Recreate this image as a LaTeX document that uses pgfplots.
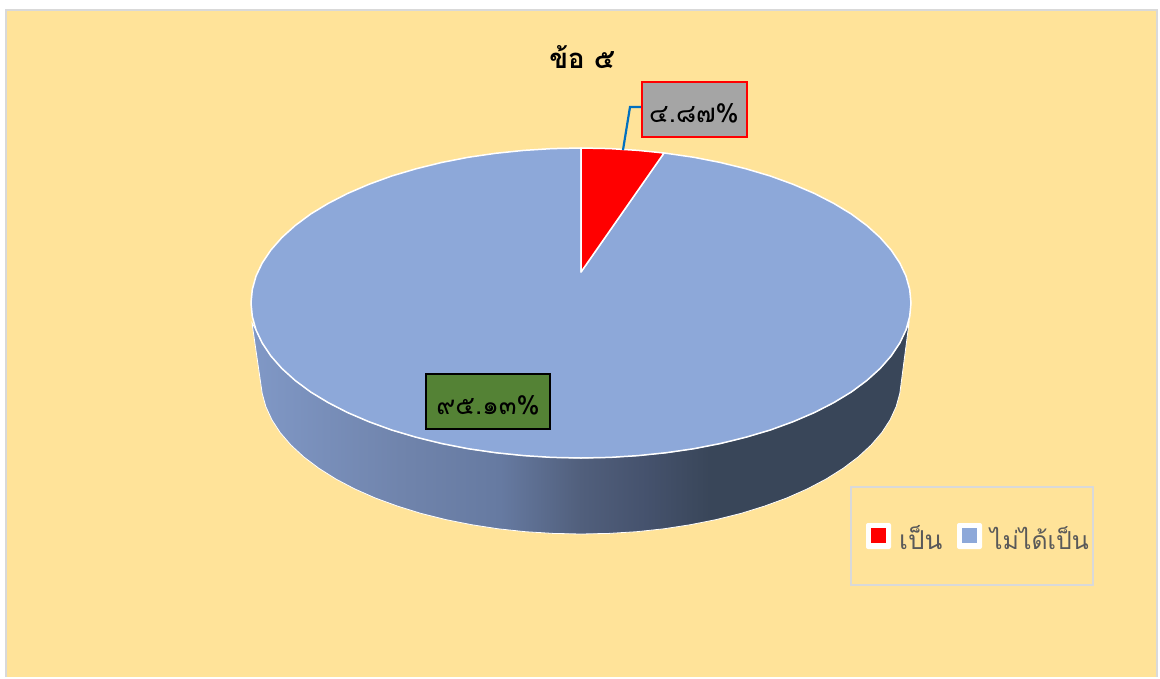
\documentclass[border=0pt]{standalone}
\usepackage{fontspec}
\usepackage{pgfplots}
\pgfplotsset{compat=1.18}
\newfontfamily\thaifont[Script=Thai]{Loma}
\definecolor{bgc}{HTML}{FFE399}
\definecolor{bluec}{HTML}{8DA8D9}
\definecolor{edgec}{HTML}{D9D9D9}
\definecolor{txtc}{HTML}{595959}
\definecolor{leadc}{HTML}{0070C0}
\definecolor{greyc}{HTML}{A5A5A5}
\definecolor{greenc}{HTML}{548235}
\definecolor{s0}{HTML}{8098C6}
\definecolor{s1}{HTML}{7084AC}
\definecolor{s2}{HTML}{667AA1}
\definecolor{s3}{HTML}{515F7C}
\definecolor{s4}{HTML}{45526D}
\definecolor{s5}{HTML}{394659}
\pgfdeclarehorizontalshading{sidegrad}{100bp}{color(0bp)=(s0); color(25bp)=(s0); color(36.3bp)=(s1); color(43.9bp)=(s2); color(50bp)=(s3); color(55bp)=(s4); color(59.9bp)=(s5); color(100bp)=(s5)}
\begin{document}
\begin{tikzpicture}
\begin{axis}[
  scale only axis, width=1160pt, height=677pt,
  axis lines=none, xmin=0, xmax=1160, ymin=0, ymax=677, y dir=reverse,
  clip=false,
]
% page and chart area
\fill[white] (axis cs:0,0) rectangle (axis cs:1160,677);
\fill[bgc] (axis cs:6,10) rectangle (axis cs:1157,677);
\draw[edgec,line width=2pt] (axis cs:6,677) -- (axis cs:6,10) -- (axis cs:1157,10) -- (axis cs:1157,677);
% side wall
\addplot[shading=sidegrad, draw=white, line width=0.8pt] coordinates {
(909,323)(906,329.9)(899.8,343)(891.1,356)(880.1,368.5)(866.8,380.5)(851.3,392)(833.8,402.6)(814.3,412.6)(793.1,421.7)(770.3,430)(746,437.2)(720.5,443.5)(693.9,448.7)(666.4,452.7)(638.3,455.6)(609.8,457.4)(581,458)
(552.2,457.4)(523.7,455.6)(495.6,452.7)(468.1,448.7)(441.5,443.5)(416,437.2)(391.7,430)(368.9,421.7)(347.7,412.6)(328.2,402.6)(310.7,392)(295.2,380.5)(281.9,368.5)(270.9,356)(262.2,343)(256,329.9)(252,323)
(262.2,393.4)(265.9,406.7)(271.9,419.8)(280.3,432.7)(291,445.1)(303.9,457)(318.9,468.3)(335.9,479)(354.7,488.9)(375.3,498)(397.5,506.1)(421,513.4)(445.8,519.6)(471.6,524.7)(498.2,528.8)(525.4,531.7)(553.1,533.4)(581,534)
(608.9,533.4)(636.6,531.7)(663.8,528.8)(690.4,524.7)(716.2,519.6)(741,513.4)(764.5,506.1)(786.7,498)(807.3,488.9)(826.1,479)(843.1,468.3)(858.1,457)(871,445.1)(881.7,432.7)(890.1,419.8)(896.1,406.7)(899.8,393.4)
} -- cycle;
% large slice 95.13
\addplot[fill=bluec, draw=white, line width=1.5pt, line join=round] coordinates {
(581,272)(664,153)(666.4,153.3)(693.9,157.3)(720.5,162.5)(746,168.8)(770.3,176)(793.1,184.3)(814.3,193.4)(833.8,203.4)(851.3,214)(866.8,225.5)(880.1,237.5)(891.1,250)(899.8,263)(906,276.1)(909.7,289.5)(911,303)(909.7,316.5)(906,329.9)(899.8,343)(891.1,356)(880.1,368.5)(866.8,380.5)(851.3,392)(833.8,402.6)(814.3,412.6)(793.1,421.7)(770.3,430)(746,437.2)(720.5,443.5)(693.9,448.7)(666.4,452.7)(638.3,455.6)(609.8,457.4)(581,458)
(552.2,457.4)(523.7,455.6)(495.6,452.7)(468.1,448.7)(441.5,443.5)(416,437.2)(391.7,430)(368.9,421.7)(347.7,412.6)(328.2,402.6)(310.7,392)(295.2,380.5)(281.9,368.5)(270.9,356)(262.2,343)(256,329.9)(252.3,316.5)(251,303)(252.3,289.5)(256,276.1)(262.2,263)(270.9,250)(281.9,237.5)(295.2,225.5)(310.7,214)(328.2,203.4)(347.7,193.4)(368.9,184.3)(391.7,176)(416,168.8)(441.5,162.5)(468.1,157.3)(495.6,153.3)(523.7,150.4)(552.2,148.6)(581,148)
} -- cycle;
% small slice 4.87
\addplot[fill=red, draw=white, line width=1.5pt, line join=round] coordinates {
(581,272)(581,148)(609.8,148.6)(638.3,150.4)(664,153)
} -- cycle;
% leader line
\addplot[color=leadc, line width=2.2pt] coordinates {(623,150)(630,107)(641,107)};
% labels
\draw[red, line width=2.5pt, fill=greyc] (axis cs:642.2,82.2) rectangle (axis cs:746.8,136.8);
\draw[black, line width=2.5pt, fill=greenc] (axis cs:426.2,374.2) rectangle (axis cs:549.8,428.8);
\node[inner sep=0pt, font=\thaifont\fontsize{26}{30}\selectfont] at (axis cs:694,113.5) {๔.๘๗\%};
\node[inner sep=0pt, font=\thaifont\fontsize{26}{30}\selectfont] at (axis cs:488,405.5) {๙๕.๑๓\%};
\node[font=\thaifont\bfseries\fontsize{27.5}{32}\selectfont, text=black] at (axis cs:582,57) {ข้อ ๕};
% legend
\draw[edgec,line width=1.5pt] (axis cs:851,487) rectangle (axis cs:1093,585);
\fill[white,rounded corners=2pt] (axis cs:866,523) rectangle (axis cs:891,549);
\fill[red] (axis cs:871,528) rectangle (axis cs:886,543);
\fill[white,rounded corners=2pt] (axis cs:957,523) rectangle (axis cs:982,549);
\fill[bluec] (axis cs:962,528) rectangle (axis cs:977,543);
\node[font=\thaifont\fontsize{26}{30}\selectfont, text=txtc, anchor=west, inner sep=0pt] at (axis cs:899,538) {เป็น};
\node[font=\thaifont\fontsize{24.8}{30}\selectfont, text=txtc, anchor=west, inner sep=0pt] at (axis cs:990,538) {ไม่ได้เป็น};
\end{axis}
\end{tikzpicture}
\end{document}
